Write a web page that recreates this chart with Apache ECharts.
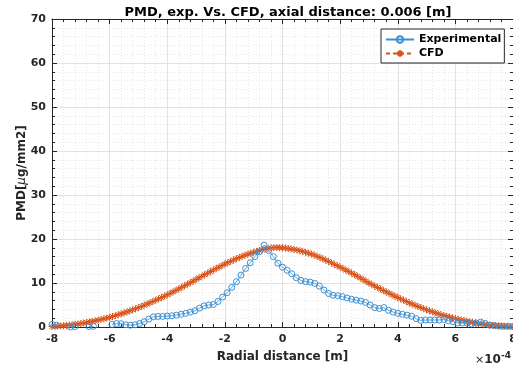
<!DOCTYPE html>
<html>
<head>
<meta charset="utf-8">
<script src="https://cdn.jsdelivr.net/npm/echarts@6/dist/echarts.min.js"></script>
<style>
  html, body { margin: 0; padding: 0; background: #fff; }
  #chart { width: 513px; height: 370px; }
</style>
</head>
<body>
<div id="chart"></div>
<script>
// x values are in units of 1e-4 m (axis shows x10^-4)
const xStart = -8;
const expStep = 0.16;   // spacing of the experimental points
const cfdStep = 0.1;    // spacing of the CFD points

// Experimental PMD [ug/mm2], null where the point falls below the axis
const expY = [
  0.6, 0.4, null, null, 0.0, 0.1, null, null, 0.1, 0.15,
  null, null, null, 0.6, 0.8, 0.75, 0.5, 0.4, 0.5, 0.8,
  1.2, 1.8, 2.3, 2.4, 2.4, 2.5, 2.55, 2.7, 2.9, 3.1,
  3.4, 3.7, 4.3, 4.8, 5.0, 5.1, 5.8, 6.8, 7.8, 9.0,
  10.3, 11.8, 13.3, 14.6, 16.0, 17.1, 18.6, 17.4, 16.0, 14.5,
  13.6, 12.9, 12.1, 11.2, 10.6, 10.3, 10.2, 9.9, 9.3, 8.4,
  7.6, 7.2, 7.1, 6.9, 6.6, 6.3, 6.1, 5.9, 5.6, 5.0,
  4.4, 4.2, 4.4, 3.8, 3.4, 3.1, 2.9, 2.7, 2.45, 1.9,
  1.5, 1.6, 1.6, 1.6, 1.6, 1.7, 1.4, 1.2, 0.9, 0.9,
  0.9, 0.7, 0.9, 1.1, 0.8, 0.4, 0.3, 0.2, 0.15, 0.2,
  0.1
];

// CFD PMD [ug/mm2]
const cfdY = [
  0.10, 0.14, 0.19, 0.24, 0.29, 0.35,
  0.43, 0.52, 0.61, 0.70, 0.80,
  0.91, 1.03, 1.15, 1.27, 1.40,
  1.55, 1.71, 1.87, 2.03, 2.20,
  2.39, 2.59, 2.79, 2.99, 3.20,
  3.43, 3.66, 3.90, 4.15, 4.40,
  4.67, 4.94, 5.22, 5.51, 5.80,
  6.09, 6.38, 6.68, 6.99, 7.30,
  7.63, 7.97, 8.31, 8.65, 9.00,
  9.36, 9.72, 10.08, 10.44, 10.80,
  11.16, 11.52, 11.88, 12.24, 12.60,
  12.95, 13.29, 13.63, 13.97, 14.30,
  14.61, 14.92, 15.22, 15.51, 15.80,
  16.06, 16.31, 16.55, 16.78, 17.00,
  17.20, 17.38, 17.55, 17.72, 17.88,
  18.00, 18.05, 18.06, 18.04, 18.00,
  17.93, 17.84, 17.74, 17.62, 17.50,
  17.34, 17.17, 16.99, 16.80, 16.60,
  16.34, 16.07, 15.79, 15.50, 15.20,
  14.89, 14.57, 14.25, 13.93, 13.60,
  13.27, 12.93, 12.59, 12.25, 11.90,
  11.53, 11.15, 10.77, 10.39, 10.00,
  9.66, 9.32, 8.98, 8.64, 8.30,
  7.98, 7.66, 7.34, 7.02, 6.70,
  6.40, 6.10, 5.80, 5.50, 5.20,
  4.94, 4.68, 4.42, 4.16, 3.90,
  3.68, 3.46, 3.24, 3.02, 2.80,
  2.62, 2.44, 2.26, 2.08, 1.90,
  1.76, 1.62, 1.48, 1.34, 1.20,
  1.08, 0.96, 0.84, 0.72, 0.60,
  0.53, 0.46, 0.39, 0.32, 0.25,
  0.21, 0.17, 0.13, 0.09, 0.05
];

const xTicks = { min: -8, max: 8, interval: 2 };
const yTicks = { min: 0, max: 70, interval: 10 };

const expData = expY.map((v, i) => [+(xStart + i * expStep).toFixed(2), v]);
const cfdData = cfdY.map((v, i) => [+(xStart + i * cfdStep).toFixed(2), v]);

const ink = '#262626';
const blue = '#3a90d4';
const orange = '#D95319';
const asterisk = 'path://M0,5L10,5M5,0L5,10M1.5,1.5L8.5,8.5M1.5,8.5L8.5,1.5';
const font = 'DejaVu Sans';

function axisCommon(extra) {
    return Object.assign({
        axisLine: { show: true, onZero: false, lineStyle: { color: ink, width: 1 } },
        axisTick: { show: true, inside: true, length: 5, lineStyle: { color: ink } },
        minorTick: { show: true, splitNumber: 5, length: 3, lineStyle: { color: ink } },
        axisLabel: { color: ink, fontFamily: font, fontWeight: 'bold', fontSize: 11 }
    }, extra);
}

const chart = echarts.init(document.getElementById('chart'));
chart.setOption({
    animation: false,
    title: {
        text: 'PMD, exp. Vs. CFD, axial distance: 0.006 [m]',
        left: 283, top: 1, textAlign: 'center',
        textStyle: { fontFamily: font, fontWeight: 'bold', fontSize: 13, color: '#000' }
    },
    grid: { left: 52, right: 0, top: 19, bottom: 43, outerBoundsMode: 'none' },
    legend: {
        left: 381, top: 29, orient: 'vertical',
        backgroundColor: '#fff', borderColor: ink, borderWidth: 1, borderRadius: 0,
        padding: [5, 3, 4, 4], itemGap: 3, itemWidth: 28, itemHeight: 8,
        textStyle: { fontFamily: font, fontWeight: 'bold', fontSize: 11, color: '#000' },
        data: ['Experimental', 'CFD']
    },
    xAxis: [
        axisCommon({
            type: 'value', position: 'bottom', min: xTicks.min, max: xTicks.max, interval: xTicks.interval,
            name: 'Radial distance [m]', nameLocation: 'middle', nameGap: 24,
            nameTextStyle: { fontFamily: font, fontWeight: 'bold', fontSize: 12, color: ink },
            axisLabel: { color: ink, fontFamily: font, fontWeight: 'bold', fontSize: 11, margin: 7 },
            splitLine: { show: true, lineStyle: { color: '#e2e2e2' } },
            minorSplitLine: { show: true, lineStyle: { color: '#e6e6e6', type: [1, 2] } }
        }),
        axisCommon({
            type: 'value', position: 'top', min: xTicks.min, max: xTicks.max, interval: xTicks.interval,
            axisLabel: { show: false }, splitLine: { show: false }
        })
    ],
    yAxis: [
        axisCommon({
            type: 'value', position: 'left', min: yTicks.min, max: yTicks.max, interval: yTicks.interval,
            name: 'PMD[{mu|μ}g/mm2]', nameLocation: 'middle', nameGap: 24, nameMoveOverlap: false,
            nameTextStyle: {
                fontFamily: font, fontWeight: 'bold', fontSize: 12, color: ink,
                rich: { mu: { fontFamily: font, fontWeight: 'normal', fontStyle: 'italic', fontSize: 12, color: ink } }
            },
            axisLabel: { color: ink, fontFamily: font, fontWeight: 'bold', fontSize: 11, margin: 6 },
            splitLine: { show: true, lineStyle: { color: '#e2e2e2' } },
            minorSplitLine: { show: true, lineStyle: { color: '#e6e6e6', type: [1, 2] } }
        }),
        axisCommon({
            type: 'value', position: 'right', min: yTicks.min, max: yTicks.max, interval: yTicks.interval,
            axisLabel: { show: false }, splitLine: { show: false }
        })
    ],
    series: [
        {
            name: 'Experimental', type: 'line', data: expData,
            xAxisIndex: 0, yAxisIndex: 0,
            symbol: 'circle', symbolSize: 6, connectNulls: false,
            lineStyle: { color: blue, width: 0.8 },
            itemStyle: { color: 'rgba(0,0,0,0)', borderColor: blue, borderWidth: 1 },
            z: 3
        },
        {
            name: 'CFD', type: 'line', data: cfdData,
            xAxisIndex: 0, yAxisIndex: 0,
            symbol: asterisk, symbolSize: 7,
            lineStyle: { color: orange, width: 0.8, type: [4, 3] },
            itemStyle: { color: orange, borderColor: orange, borderWidth: 1 },
            z: 2
        }
    ],
    graphic: [
        {
            type: 'text', left: 475, top: 351,
            style: {
                text: '{x|×}{b|10}{s|-4}',
                rich: {
                    x: { fontFamily: font, fontSize: 11, fill: ink, verticalAlign: 'bottom' },
                    b: { fontFamily: font, fontWeight: 'bold', fontSize: 12, fill: ink, verticalAlign: 'bottom' },
                    s: { fontFamily: font, fontWeight: 'bold', fontSize: 9, fill: ink, verticalAlign: 'top', padding: [0, 0, 6, 0] }
                }
            }
        }
    ]
});
</script>
</body>
</html>
